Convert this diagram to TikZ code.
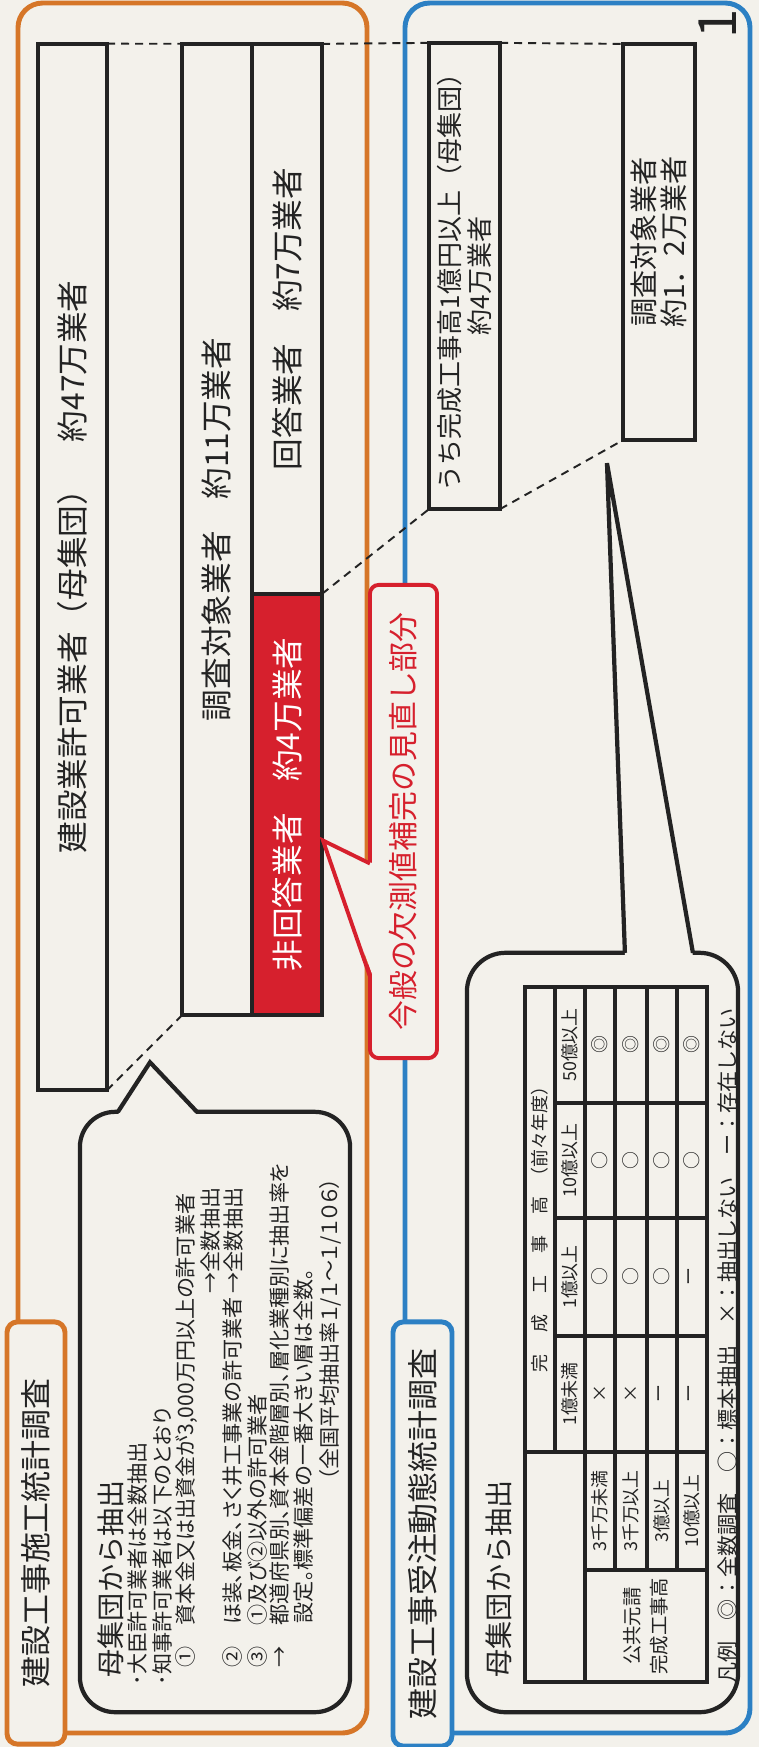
\documentclass[tikz,border=0pt]{standalone}
\usepackage{fontspec}
\setmainfont{Noto Sans CJK JP}
\newfontfamily\pfont[RawFeature={+palt}]{Noto Sans CJK JP}
\usepackage{tikz}
\usetikzlibrary{calc}
\definecolor{paper}{RGB}{243,241,235}
\definecolor{kframe}{RGB}{214,118,40}
\definecolor{jframe}{RGB}{44,128,196}
\definecolor{hilite}{RGB}{214,32,45}
\definecolor{ink}{RGB}{35,35,35}
\newcommand{\setsz}[2]{\fontsize{#1pt}{#2pt}\selectfont}
\tikzset{
  frame/.style={line width=1.4pt, rounded corners=7pt},
  titlebox/.style={line width=1.4pt, fill=paper, rounded corners=3pt, inner sep=0pt, outer sep=0pt},
  box/.style={draw=ink, line width=1.2pt, fill=paper, inner sep=0pt, outer sep=0pt},
  txt/.style={rotate=90, inner sep=0pt, text=ink},
  small/.style={txt, font=\pfont\setsz{6}{6}},
  guide/.style={ink, line width=0.55pt, dash pattern=on 2.3pt off 1.7pt},
  bubble/.style={draw=ink, fill=paper, line width=1.2pt, inner sep=0pt, outer sep=0pt},
  rule/.style={ink, line width=0.9pt},
}

\begin{document}
\begin{tikzpicture}[x=0.01cm, y=-0.01cm]
\fill[paper] (0,0) rectangle (759,1747);
\useasboundingbox (0,0) rectangle (759,1747);

% frames
\draw[frame, kframe] (18,3) rectangle (367,1733);
\draw[frame, jframe] (405,3) rectangle (750,1733);
\node[titlebox, draw=kframe, minimum width=0.58cm, minimum height=4.22cm] (ktitle) at (36,1533) {};
\node[txt, font=\setsz{8.8}{8.8}] (ktitleT) at (ktitle) {建設工事施工統計調査};
\node[titlebox, draw=jframe, minimum width=0.59cm, minimum height=4.24cm] (jtitle) at (422.5,1534) {};
\node[txt, font=\setsz{8.8}{8.8}] (jtitleT) at (jtitle) {建設工事受注動態統計調査};
\node[txt, font=\setsz{15}{15}] (pageno) at (718,24) {1};

% bars
\node[box, minimum width=0.69cm, minimum height=10.46cm] (pop) at (72.5,567) {};
\node[txt, font=\setsz{9}{9}] (popT) at (pop) {建設業許可業者（母集団）　約47万業者};
\node[box, minimum width=0.70cm, minimum height=9.71cm] (sur) at (217,529.5) {};
\node[txt, font=\setsz{9}{9}] (surT) at (sur) {調査対象業者　約11万業者};
\node[box, minimum width=0.70cm, minimum height=5.50cm] (ans) at (287,319) {};
\node[txt, font=\setsz{9}{9}] (ansT) at (ans) {回答業者　約7万業者};
\node[box, fill=hilite, minimum width=0.70cm, minimum height=4.21cm] (non) at (287,804.5) {};
\node[txt, text=white, font=\setsz{9}{9}] (nonT) at (non) {非回答業者　約4万業者};
\node[box, minimum width=0.71cm, minimum height=4.66cm] (big) at (464.5,276) {};
\node[txt, align=center, font=\setsz{7.4}{8.5}] (bigT) at (big) {うち完成工事高1億円以上（母集団）\\約4万業者};
\node[box, minimum width=0.72cm, minimum height=3.96cm] (samp) at (659,242) {};
\node[txt, align=center, font=\setsz{8}{8.5}] (sampT) at (samp) {調査対象業者\\約1．2万業者};

\draw[guide] (pop.north east) -- (sur.north west);
\draw[guide] (ans.north east) -- (big.north west);
\draw[guide] (big.north east) -- (samp.north west);
\draw[guide] (pop.south east) -- (sur.south west);
\draw[guide] (non.north east) -- (big.south west);
\draw[guide] (big.south east) -- (samp.south west);

% callouts
\node[bubble, rounded corners=10pt, minimum width=2.70cm, minimum height=6.00cm] (kbub) at (215,1412) {};
\coordinate (ktip) at ($(pop.south east)+(43,-28)$);
\fill[paper] ($(kbub.north west)+(38,3)$) -- (ktip) -- ($(kbub.north west)+(117,3)$) -- cycle;
\draw[ink, line width=1.2pt] ($(kbub.north west)+(38,0)$) -- (ktip) -- ($(kbub.north west)+(117,0)$);
\node[bubble, rounded corners=11pt, minimum width=2.71cm, minimum height=7.59cm] (jbub) at (602.5,1332.5) {};
\coordinate (jtip) at ($(samp.south west)+(-16,23)$);
\fill[paper] ($(jbub.north west)+(158,3)$) -- (jtip) -- ($(jbub.north west)+(226,3)$) -- cycle;
\draw[ink, line width=1.2pt] ($(jbub.north west)+(158,0)$) -- (jtip) -- ($(jbub.north west)+(226,0)$);

\node[box, draw=hilite, line width=1.1pt, rounded corners=2.5pt, minimum width=0.67cm, minimum height=4.73cm] (note) at (403.5,821.5) {};
\node[txt, text=hilite, font=\setsz{8.5}{8.5}] (noteT) at (note) {今般の欠測値補完の見直し部分};
\coordinate (tipA) at ($(non.east)+(1,36)$);
\fill[paper] (tipA) -- ($(note.west)+(3,42)$) -- ($(note.west)+(3,155)$) -- cycle;
\draw[hilite, line width=1.1pt] ($(note.west)+(0,42)$) -- (tipA) -- ($(note.west)+(0,155)$);

% sampling notes
\node[txt, anchor=west, font=\setsz{8}{8}] (kfrom) at (111,1678) {母集団から抽出};
\node[small, anchor=west] (kl1) at (137,1686) {･大臣許可業者は全数抽出};
\node[small, anchor=west] (kl2) at (162,1686) {･知事許可業者は以下のとおり};
\node[small, anchor=west] (kl3) at (187,1668) {①　資本金又は出資金が3,000万円以上の許可業者};
\node[small, anchor=east] (kl4) at (210,1187) {→全数抽出};
\node[small, anchor=west] (kl5) at (233,1668) {②　ほ装、板金、さく井工事業の許可業者};
\node[small, anchor=east] (kl5b) at (233,1187) {→全数抽出};
\node[small, anchor=west] (kl6) at (257,1668) {③　①及び②以外の許可業者};
\node[small, anchor=west] (kl7) at (280,1668) {→　都道府県別、資本金階層別、層化業種別に抽出率を};
\node[small, anchor=west] (kl8) at (303,1624) {設定。標準偏差の一番大きい層は全数。};
\node[small, anchor=east] (kl9) at (330,1177) {（全国平均抽出率１/１～１/１０６）};

% table
\node[txt, anchor=west, font=\setsz{8}{8}] (jfrom) at (499,1678) {母集団から抽出};
\draw[rule] (525,987) rectangle (707,1682);
\draw[rule] (555,987) -- (555,1452);
\draw[rule] (585,987) -- (585,1682);
\foreach \xx in {615,647,677} \draw[rule] (\xx,987) -- (\xx,1570);
\foreach \yy in {1103,1218,1336} \draw[rule] (555,\yy) -- (707,\yy);
\draw[rule] (525,1452) -- (707,1452);
\draw[rule] (585,1570) -- (707,1570);
\node[txt, font=\setsz{5.1}{5.1}] (hdr) at (540,1225) {完\hspace{1.2em}成\hspace{1.2em}工\hspace{1.2em}事\hspace{1.2em}高\hspace{0.6em}（前々年度）};
\foreach \n/\yc/\t in {a/1394/1億未満, b/1277/1億以上, c/1160.5/10億以上, d/1045/50億以上}
  \node[txt, font=\setsz{5.1}{5.1}] (hd\n) at (570,\yc) {\t};
\foreach \r/\xc/\lab/\ca/\cb/\cc/\cd in {1/600/3千万未満/×/○/○/◎, 2/631/3千万以上/×/○/○/◎, 3/662/3億以上/ー/○/○/◎, 4/692/10億以上/ー/ー/○/◎}{
  \node[txt, font=\setsz{5.1}{5.1}] (lab\r) at (\xc,1511) {\lab};
  \node[txt, font=\setsz{5.1}{5.1}] (ca\r) at (\xc,1394) {\ca};
  \node[txt, font=\setsz{5.1}{5.1}] (cb\r) at (\xc,1277) {\cb};
  \node[txt, font=\setsz{5.1}{5.1}] (cc\r) at (\xc,1160.5) {\cc};
  \node[txt, font=\setsz{5.1}{5.1}] (cd\r) at (\xc,1045) {\cd};
}
\node[txt, align=center, font=\setsz{5.5}{7.7}] (pub) at (646,1626) {公共元請\\完成工事高};
\node[txt, anchor=west, font=\setsz{6}{6}] (legend) at (728,1684) {凡例　◎：全数調査　○：標本抽出　×：抽出しない　ー：存在しない};
\end{tikzpicture}
\end{document}
